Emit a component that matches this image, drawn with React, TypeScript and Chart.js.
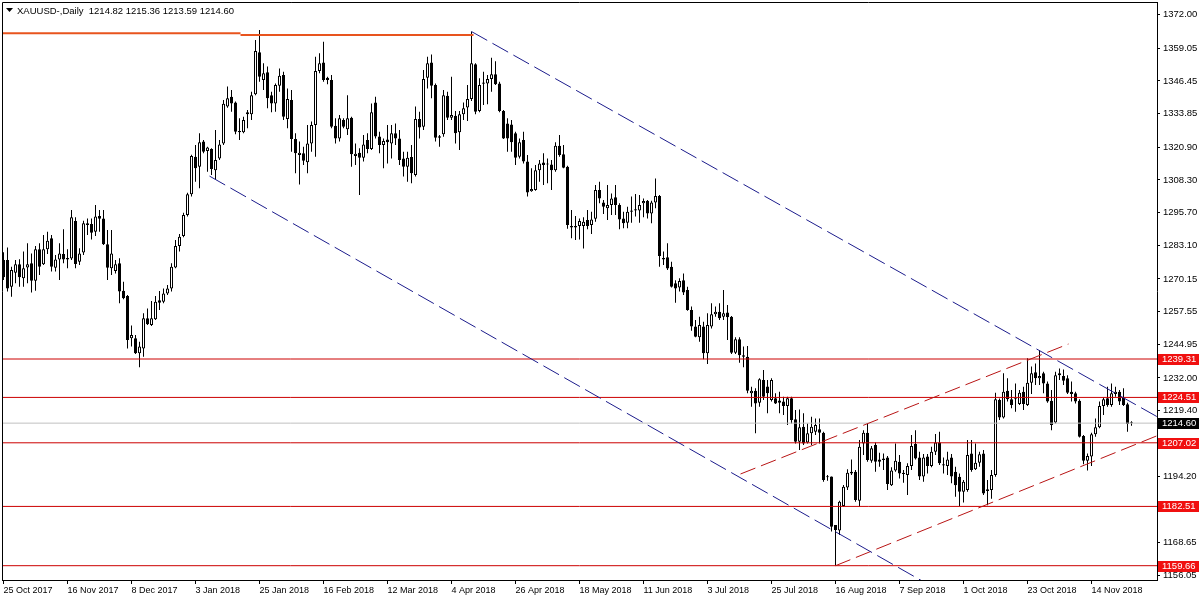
import React, { useEffect, useRef } from "react";
import { Chart, registerables } from "chart.js";

Chart.register(...registerables);

// ---- Daily candles, 25 Oct 2017 .. 28 Nov 2018 (index = trading day) ----
const opens: number[] = [
  1277.5, 1277.5, 1267.2, 1272.6, 1275.8, 1270.4, 1274.6, 1276.2, 1269.5, 1281.6,
  1275.8, 1281.6, 1285.8, 1274.5, 1277.7, 1279.8, 1278.2, 1278.0, 1292.5, 1276.8,
  1280.4, 1291.6, 1291.3, 1288.4, 1294.4, 1293.5, 1283.5, 1274.3, 1273.2, 1276.2,
  1265.6, 1263.6, 1247.3, 1247.3, 1241.5, 1243.4, 1255.0, 1252.4, 1254.6, 1262.0,
  1261.4, 1264.6, 1266.5, 1274.6, 1282.9, 1286.7, 1294.8, 1302.8, 1317.3, 1313.4,
  1323.1, 1319.5, 1320.2, 1312.1, 1316.6, 1322.4, 1336.6, 1340.4, 1338.2, 1327.2,
  1326.7, 1334.4, 1333.6, 1341.3, 1357.5, 1346.8, 1349.8, 1341.0, 1337.8, 1344.6,
  1348.8, 1331.8, 1339.1, 1324.1, 1317.9, 1318.6, 1315.1, 1322.4, 1329.5, 1350.3,
  1353.6, 1347.7, 1346.8, 1329.2, 1324.3, 1331.4, 1327.9, 1332.3, 1317.5, 1318.8,
  1316.9, 1323.7, 1320.2, 1338.2, 1325.1, 1321.8, 1323.9, 1322.4, 1326.3, 1324.3,
  1316.6, 1313.4, 1317.2, 1310.2, 1331.8, 1328.8, 1347.7, 1353.6, 1344.9, 1325.2,
  1325.9, 1340.8, 1332.3, 1333.1, 1326.7, 1333.6, 1336.2, 1339.5, 1352.9, 1334.9,
  1345.9, 1345.5, 1347.2, 1349.0, 1345.5, 1334.9, 1330.1, 1329.7, 1326.3, 1317.3,
  1323.7, 1315.4, 1304.0, 1304.4, 1312.1, 1315.0, 1314.3, 1314.3, 1312.1, 1321.5,
  1318.2, 1313.4, 1290.6, 1290.6, 1290.6, 1290.6, 1292.9, 1291.0, 1293.4, 1304.4,
  1299.6, 1297.4, 1298.7, 1301.6, 1298.7, 1293.5, 1291.8, 1296.1, 1297.0, 1296.5,
  1299.3, 1300.3, 1295.4, 1299.6, 1302.1, 1278.2, 1278.5, 1274.9, 1268.5, 1266.9,
  1269.7, 1265.9, 1258.2, 1251.8, 1247.7, 1251.8, 1241.5, 1251.8, 1256.6, 1257.5,
  1255.6, 1257.2, 1255.6, 1241.7, 1246.9, 1240.8, 1240.2, 1226.1, 1227.1, 1222.5,
  1231.2, 1228.7, 1223.5, 1224.2, 1223.3, 1222.9, 1221.2, 1224.2, 1216.1, 1207.4,
  1213.2, 1207.1, 1210.7, 1211.3, 1212.2, 1210.9, 1194.0, 1194.0, 1175.3, 1173.2,
  1182.7, 1189.8, 1195.2, 1195.9, 1184.7, 1206.8, 1210.9, 1200.1, 1206.2, 1200.6,
  1200.4, 1201.4, 1190.7, 1196.3, 1199.7, 1195.5, 1194.6, 1198.1, 1206.6, 1201.4,
  1194.0, 1201.7, 1198.1, 1203.6, 1207.1, 1198.8, 1198.1, 1201.4, 1195.9, 1193.9,
  1188.2, 1188.8, 1202.9, 1196.8, 1199.3, 1202.9, 1188.4, 1188.8, 1194.6, 1223.5,
  1216.8, 1227.1, 1223.8, 1223.8, 1222.0, 1226.7, 1221.6, 1230.2, 1234.2, 1231.9,
  1233.8, 1229.9, 1223.2, 1214.8, 1233.1, 1232.8, 1231.9, 1226.7, 1226.1, 1223.2,
  1209.6, 1200.1, 1201.7, 1210.3, 1213.0, 1221.2, 1224.2, 1221.6, 1225.8, 1226.7,
  1224.5, 1221.9, 1214.82,
];
const highs: number[] = [
  1280.5, 1282.3, 1274.9, 1277.5, 1277.8, 1280.7, 1283.9, 1280.0, 1282.9, 1283.9,
  1287.1, 1288.4, 1287.1, 1279.4, 1283.9, 1289.3, 1281.6, 1296.7, 1293.9, 1282.0,
  1292.6, 1293.5, 1293.5, 1298.7, 1296.7, 1296.7, 1289.0, 1289.0, 1277.5, 1278.1,
  1269.1, 1264.0, 1252.2, 1248.6, 1246.0, 1256.9, 1258.8, 1261.7, 1263.6, 1265.5,
  1266.5, 1267.8, 1276.2, 1285.2, 1287.5, 1295.7, 1303.4, 1318.0, 1321.8, 1326.3,
  1323.7, 1321.1, 1320.5, 1327.6, 1323.7, 1339.1, 1344.3, 1343.0, 1338.5, 1332.1,
  1332.7, 1335.3, 1342.3, 1362.2, 1366.1, 1353.3, 1352.0, 1342.3, 1345.5, 1351.3,
  1350.0, 1343.6, 1343.0, 1326.3, 1323.1, 1321.1, 1329.5, 1330.8, 1355.8, 1357.1,
  1361.6, 1348.1, 1348.8, 1332.1, 1333.3, 1332.1, 1341.0, 1332.7, 1322.4, 1320.5,
  1325.6, 1326.3, 1337.8, 1340.4, 1326.9, 1324.3, 1329.5, 1329.5, 1330.1, 1327.6,
  1319.2, 1319.2, 1321.8, 1336.6, 1334.6, 1350.7, 1355.8, 1356.7, 1345.5, 1325.6,
  1343.0, 1342.3, 1348.1, 1334.9, 1334.9, 1338.2, 1344.9, 1365.5, 1353.3, 1347.5,
  1350.0, 1348.8, 1355.4, 1354.1, 1346.2, 1335.3, 1332.1, 1331.4, 1326.9, 1324.3,
  1326.9, 1317.9, 1312.8, 1314.1, 1316.0, 1318.6, 1316.6, 1316.0, 1322.8, 1325.6,
  1321.8, 1313.8, 1296.7, 1294.4, 1293.5, 1293.9, 1296.7, 1296.1, 1306.4, 1307.6,
  1300.6, 1306.4, 1303.1, 1306.4, 1299.3, 1296.1, 1298.0, 1301.9, 1302.9, 1302.5,
  1301.2, 1300.6, 1300.3, 1308.9, 1302.5, 1280.7, 1283.9, 1276.8, 1269.7, 1270.4,
  1272.3, 1267.2, 1259.5, 1254.3, 1255.6, 1253.7, 1256.9, 1260.8, 1259.5, 1260.8,
  1265.9, 1260.1, 1255.9, 1247.7, 1247.7, 1244.1, 1244.3, 1228.6, 1228.0, 1231.9,
  1235.1, 1231.2, 1231.9, 1226.1, 1226.7, 1224.8, 1224.8, 1224.8, 1219.7, 1219.9,
  1218.4, 1214.5, 1217.1, 1216.4, 1216.4, 1211.3, 1194.6, 1194.0, 1175.3, 1184.7,
  1190.8, 1196.8, 1200.6, 1196.5, 1208.1, 1211.9, 1214.5, 1205.8, 1207.1, 1203.2,
  1202.9, 1201.9, 1197.6, 1206.8, 1202.3, 1196.5, 1199.1, 1210.0, 1211.9, 1203.6,
  1202.7, 1202.7, 1205.5, 1210.4, 1211.3, 1201.4, 1203.6, 1202.7, 1197.8, 1195.2,
  1192.7, 1208.1, 1208.1, 1206.8, 1203.6, 1204.2, 1192.7, 1196.5, 1226.3, 1224.1,
  1233.8, 1231.9, 1227.4, 1229.9, 1227.4, 1228.6, 1239.6, 1236.4, 1237.6, 1242.8,
  1234.4, 1230.6, 1227.4, 1234.4, 1235.7, 1235.3, 1233.1, 1230.6, 1226.7, 1223.8,
  1210.0, 1202.9, 1210.9, 1216.4, 1222.9, 1224.5, 1228.6, 1229.9, 1228.6, 1227.4,
  1228.0, 1222.5, 1215.36,
];
const lows: number[] = [
  1269.8, 1265.3, 1263.3, 1268.5, 1267.2, 1267.2, 1268.5, 1264.9, 1265.6, 1271.7,
  1275.5, 1279.8, 1273.0, 1273.0, 1269.8, 1276.2, 1274.3, 1277.5, 1274.3, 1275.5,
  1279.4, 1287.1, 1285.4, 1286.7, 1288.4, 1283.2, 1269.8, 1271.7, 1272.3, 1260.8,
  1262.3, 1243.4, 1244.1, 1241.2, 1236.1, 1240.2, 1252.4, 1252.0, 1254.3, 1258.2,
  1260.8, 1264.0, 1265.3, 1274.3, 1280.7, 1286.2, 1294.2, 1301.9, 1307.6, 1305.1,
  1318.6, 1311.5, 1310.2, 1308.3, 1316.0, 1321.8, 1336.1, 1334.6, 1325.9, 1323.7,
  1326.3, 1328.2, 1331.4, 1341.0, 1346.2, 1343.0, 1335.9, 1334.4, 1334.6, 1342.3,
  1331.4, 1328.2, 1319.2, 1310.9, 1306.6, 1314.1, 1310.9, 1319.2, 1317.3, 1349.4,
  1346.2, 1345.2, 1328.2, 1322.4, 1323.1, 1328.2, 1325.6, 1313.4, 1314.1, 1302.5,
  1315.4, 1318.6, 1319.9, 1324.3, 1318.6, 1312.8, 1314.7, 1316.6, 1321.8, 1314.1,
  1309.6, 1307.6, 1307.0, 1309.6, 1324.3, 1327.6, 1343.6, 1339.8, 1323.1, 1321.1,
  1325.0, 1331.4, 1331.4, 1322.4, 1319.9, 1331.4, 1331.0, 1338.7, 1333.6, 1334.4,
  1337.2, 1337.5, 1342.3, 1344.9, 1334.4, 1324.1, 1319.2, 1319.2, 1314.1, 1316.6,
  1314.7, 1301.9, 1303.8, 1304.2, 1307.6, 1306.4, 1307.0, 1304.4, 1311.5, 1317.3,
  1312.8, 1289.5, 1285.8, 1285.2, 1285.4, 1281.9, 1289.3, 1287.5, 1292.2, 1299.3,
  1295.2, 1292.9, 1294.8, 1294.8, 1289.3, 1289.7, 1289.7, 1291.8, 1294.2, 1291.8,
  1293.9, 1293.5, 1291.6, 1297.4, 1274.9, 1275.5, 1273.6, 1266.9, 1261.0, 1265.3,
  1264.0, 1257.9, 1250.2, 1247.7, 1246.0, 1239.2, 1237.4, 1251.1, 1255.6, 1254.3,
  1254.3, 1246.6, 1241.2, 1241.2, 1237.9, 1236.1, 1226.1, 1220.9, 1210.7, 1220.9,
  1223.5, 1218.4, 1222.9, 1222.0, 1218.4, 1217.7, 1213.9, 1214.5, 1206.8, 1204.2,
  1206.2, 1206.8, 1206.2, 1210.0, 1206.8, 1192.0, 1192.4, 1172.8, 1159.66, 1171.5,
  1182.4, 1188.8, 1194.6, 1184.3, 1182.4, 1202.3, 1199.7, 1199.3, 1195.9, 1197.8,
  1196.5, 1188.8, 1190.4, 1195.9, 1193.3, 1191.6, 1186.9, 1196.5, 1200.6, 1192.7,
  1192.0, 1195.2, 1197.6, 1202.3, 1198.5, 1195.2, 1194.6, 1191.4, 1186.2, 1182.6,
  1184.0, 1188.2, 1195.9, 1196.5, 1197.8, 1186.9, 1183.0, 1185.5, 1193.9, 1215.8,
  1216.4, 1222.9, 1220.3, 1219.0, 1221.6, 1219.7, 1221.2, 1225.8, 1229.3, 1229.3,
  1226.1, 1222.5, 1211.9, 1214.5, 1231.2, 1229.3, 1225.8, 1222.9, 1222.2, 1209.1,
  1198.8, 1196.3, 1198.1, 1209.4, 1212.6, 1217.7, 1220.9, 1220.9, 1224.8, 1221.6,
  1221.2, 1211.3, 1213.59,
];
const closes: number[] = [
  1270.8, 1266.5, 1273.6, 1275.8, 1270.8, 1274.3, 1275.8, 1269.5, 1281.6, 1274.9,
  1281.6, 1284.9, 1274.9, 1277.7, 1280.0, 1277.7, 1277.7, 1293.9, 1275.9, 1280.0,
  1291.6, 1291.0, 1288.0, 1294.2, 1293.4, 1283.5, 1274.5, 1280.0, 1275.8, 1265.3,
  1262.7, 1246.6, 1248.6, 1241.5, 1244.1, 1255.0, 1252.7, 1255.0, 1261.4, 1261.0,
  1264.6, 1266.5, 1274.9, 1282.9, 1286.4, 1294.8, 1302.8, 1317.5, 1312.8, 1322.8,
  1319.2, 1320.8, 1312.5, 1316.0, 1322.0, 1337.7, 1339.8, 1337.8, 1326.9, 1326.7,
  1331.4, 1333.6, 1341.0, 1358.0, 1348.1, 1349.4, 1339.8, 1337.8, 1344.9, 1348.5,
  1332.7, 1339.5, 1324.1, 1318.6, 1318.8, 1315.7, 1322.4, 1329.5, 1350.3, 1353.3,
  1346.8, 1346.8, 1328.8, 1324.3, 1332.1, 1328.8, 1332.1, 1318.2, 1318.4, 1316.9,
  1322.0, 1320.2, 1334.4, 1325.1, 1321.8, 1323.3, 1322.8, 1326.3, 1324.3, 1316.0,
  1313.4, 1316.9, 1310.9, 1331.8, 1328.5, 1347.2, 1353.3, 1344.6, 1324.6, 1324.6,
  1341.0, 1332.3, 1333.3, 1326.3, 1333.6, 1335.9, 1339.5, 1353.3, 1334.6, 1344.9,
  1345.4, 1347.2, 1349.0, 1345.2, 1334.9, 1324.3, 1324.3, 1322.8, 1316.9, 1322.8,
  1315.4, 1303.5, 1304.8, 1312.1, 1314.7, 1314.1, 1314.7, 1312.1, 1321.5, 1317.9,
  1313.0, 1291.0, 1290.0, 1290.0, 1292.5, 1292.2, 1290.6, 1293.1, 1304.4, 1301.2,
  1298.0, 1298.7, 1301.2, 1298.7, 1293.1, 1291.6, 1296.1, 1296.5, 1296.5, 1298.7,
  1300.2, 1295.4, 1299.6, 1302.1, 1279.0, 1277.7, 1274.2, 1267.2, 1266.5, 1269.4,
  1264.9, 1258.2, 1251.8, 1247.9, 1252.4, 1241.5, 1252.4, 1256.6, 1257.5, 1255.0,
  1256.9, 1255.4, 1241.7, 1246.9, 1240.8, 1240.2, 1227.1, 1227.1, 1222.2, 1231.5,
  1224.8, 1226.1, 1231.2, 1222.2, 1222.5, 1221.2, 1224.2, 1215.8, 1207.4, 1213.0,
  1206.8, 1210.7, 1213.2, 1213.9, 1210.9, 1192.7, 1193.7, 1174.7, 1173.4, 1184.3,
  1190.1, 1195.5, 1195.9, 1185.0, 1205.5, 1210.9, 1200.4, 1204.9, 1199.7, 1199.7,
  1201.0, 1191.1, 1196.3, 1200.1, 1195.2, 1195.0, 1198.1, 1205.8, 1201.0, 1194.0,
  1201.4, 1198.1, 1203.6, 1207.1, 1199.1, 1198.3, 1200.6, 1194.0, 1190.7, 1188.2,
  1192.0, 1202.3, 1196.5, 1199.3, 1202.6, 1187.5, 1189.1, 1194.6, 1223.8, 1216.8,
  1226.7, 1223.8, 1221.6, 1224.2, 1226.3, 1222.0, 1230.2, 1233.8, 1231.9, 1232.8,
  1229.9, 1222.9, 1213.9, 1233.1, 1233.8, 1230.9, 1226.3, 1225.8, 1222.9, 1209.4,
  1200.1, 1201.9, 1210.3, 1213.0, 1221.2, 1223.8, 1221.6, 1226.1, 1226.7, 1222.9,
  1221.6, 1214.3, 1214.60,
];

// x-axis date labels, one every 16 trading days starting at index 0
const dateTickLabels: string[] = [
  "25 Oct 2017", "16 Nov 2017", "8 Dec 2017", "3 Jan 2018", "25 Jan 2018",
  "16 Feb 2018", "12 Mar 2018", "4 Apr 2018", "26 Apr 2018", "18 May 2018",
  "11 Jun 2018", "3 Jul 2018", "25 Jul 2018", "16 Aug 2018", "7 Sep 2018",
  "1 Oct 2018", "23 Oct 2018", "14 Nov 2018",
];
const barsPerDateTick = 16;

// y-axis price ticks
const yTickValues: number[] = [
  1372.0, 1359.05, 1346.45, 1333.85, 1320.9, 1308.3, 1295.7, 1283.1, 1270.15,
  1257.55, 1244.95, 1232.0, 1219.4, 1206.8, 1194.2, 1181.25, 1168.65, 1156.05,
];

// horizontal levels and last price
const levelPrices: number[] = [1239.31, 1224.51, 1207.02, 1182.51, 1159.66];
const lastPrice = 1214.6;
const symbolTitle = "XAUUSD-,Daily";
const lastOHLC: number[] = [1214.82, 1215.36, 1213.59, 1214.6];

// drawn objects: [barIndex, price] end points
const topLineA: number[][] = [[-1, 1364.8], [59.25, 1364.8]];
const topLineB: number[][] = [[59.25, 1364.2], [117.5, 1364.2]];
const blueUpper: number[][] = [[117, 1365.5], [288.5, 1217.0]];
const blueLower: number[][] = [[51.5, 1309.8], [229.5, 1153.9]];
const redLower: number[][] = [[208, 1159.66], [288.5, 1209.8]];
const redUpper: number[][] = [[184.25, 1195.0], [266.25, 1245.1]];

const FONT_FAMILY = "'Liberation Sans', Arial, sans-serif";
const X_FONT_SIZE = 9;
const Y_FONT_SIZE = 9.5;

export default function App() {
  const ref = useRef<HTMLCanvasElement | null>(null);

  useEffect(() => {
    const canvas = ref.current;
    if (!canvas) return;

    const idx = opens.map((_, i) => i);
    const wickData = idx.map((i) => ({ x: i, y: [lows[i], highs[i]] }));
    const bodyData = idx.map((i) => ({ x: i, y: [opens[i], closes[i]] }));
    const bodyFill = idx.map((i) => (closes[i] >= opens[i] ? "#ffffff" : "#000000"));
    const pts = (p: number[][]) => p.map(([x, y]) => ({ x, y }));

    const lineDs = (data: any[], color: string, width: number, dash: number[]) => ({
      type: "line" as const,
      data,
      borderColor: color,
      borderWidth: width,
      borderDash: dash,
      pointRadius: 0,
      tension: 0,
      fill: false,
      order: 0,
    });

    const hLines = levelPrices.map((p) =>
      lineDs([{ x: -2, y: p }, { x: 300, y: p }], "#cc0000", 1, [])
    );

    const overlay = {
      id: "overlay",
      afterDraw(chart: any) {
        const { ctx, chartArea: a } = chart;
        const y = chart.scales.y;
        ctx.save();
        // frame left & top
        ctx.strokeStyle = "#000";
        ctx.lineWidth = 1;
        ctx.beginPath();
        ctx.moveTo(a.left + 0.5, a.bottom);
        ctx.lineTo(a.left + 0.5, a.top + 0.5);
        ctx.lineTo(a.right, a.top + 0.5);
        ctx.stroke();

        // title
        ctx.fillStyle = "#000";
        ctx.beginPath();
        ctx.moveTo(6, 8);
        ctx.lineTo(13, 8);
        ctx.lineTo(9.5, 12);
        ctx.closePath();
        ctx.fill();
        ctx.font = `${Y_FONT_SIZE}px ${FONT_FAMILY}`;
        ctx.textBaseline = "middle";
        ctx.textAlign = "left";
        ctx.fillText(
          symbolTitle + "  " + lastOHLC.map((v) => v.toFixed(2)).join(" "),
          17,
          11
        );

        // price boxes
        const box = (p: number, bg: string) => {
          const py = Math.round(y.getPixelForValue(p));
          ctx.fillStyle = bg;
          ctx.fillRect(a.right + 1, py - 5, 41, 11);
          ctx.fillStyle = "#ffffff";
          ctx.fillText(p.toFixed(2), a.right + 5, py + 0.5);
        };
        levelPrices.forEach((p) => box(p, "#f01010"));
        box(lastPrice, "#000000");
        ctx.restore();
      },
    };

    const chart = new Chart(canvas, {
      type: "bar",
      data: {
        datasets: [
          lineDs(pts(topLineA), "#e8541e", 2, []),
          lineDs(pts(topLineB), "#e8541e", 2, []),
          lineDs(pts(blueUpper), "#1c1c8c", 1, [18, 6]),
          lineDs(pts(blueLower), "#1c1c8c", 1, [18, 6]),
          lineDs(pts(redLower), "#b81414", 1, [16, 6]),
          lineDs(pts(redUpper), "#b81414", 1, [16, 6]),
          ...hLines,
          lineDs([{ x: -2, y: lastPrice }, { x: 300, y: lastPrice }], "#c0c0c0", 1, []),
          {
            type: "bar" as const,
            data: bodyData as any,
            backgroundColor: bodyFill,
            borderColor: "#000000",
            borderWidth: 1,
            borderSkipped: false,
            barThickness: 3,
            minBarLength: 1,
            grouped: false,
            inflateAmount: 0,
            order: 1,
          },
          {
            type: "bar" as const,
            data: wickData as any,
            backgroundColor: "#000000",
            borderWidth: 0,
            barThickness: 1,
            grouped: false,
            inflateAmount: 0,
            order: 2,
          },
        ] as any,
      },
      options: {
        animation: false,
        responsive: false,
        devicePixelRatio: 1,
        events: [],
        layout: { padding: { left: 2, top: 2, right: 0, bottom: 0 } },
        plugins: {
          legend: { display: false },
          tooltip: { enabled: false },
          title: { display: false },
        },
        scales: {
          x: {
            type: "linear",
            min: -0.375,
            max: 288.375,
            offset: false,
            grid: {
              display: true,
              drawOnChartArea: false,
              drawTicks: true,
              tickLength: 4,
              color: "#000",
              offset: false,
            },
            border: { display: true, color: "#000", width: 1 },
            ticks: {
              autoSkip: false,
              maxRotation: 0,
              minRotation: 0,
              align: "start",
              padding: 1,
              color: "#000",
              font: { family: FONT_FAMILY, size: X_FONT_SIZE },
              callback: (v: any) => dateTickLabels[Math.round(Number(v) / barsPerDateTick)] ?? "",
            },
            afterBuildTicks: (s: any) => {
              s.ticks = dateTickLabels.map((_, k) => ({ value: k * barsPerDateTick }));
            },
            afterFit: (s: any) => {
              s.height = 20;
              s.paddingLeft = 0;
              s.paddingRight = 0;
            },
          },
          y: {
            type: "linear",
            position: "right",
            min: 1154.15,
            max: 1376.89,
            grid: {
              display: true,
              drawOnChartArea: false,
              drawTicks: true,
              tickLength: 3,
              color: "#000",
            },
            border: { display: true, color: "#000", width: 1 },
            ticks: {
              autoSkip: false,
              padding: 3,
              color: "#000",
              font: { family: FONT_FAMILY, size: Y_FONT_SIZE },
              callback: (v: any) => Number(v).toFixed(2),
            },
            afterBuildTicks: (s: any) => {
              s.ticks = yTickValues.map((v) => ({ value: v }));
            },
            afterFit: (s: any) => {
              s.width = 43;
              s.paddingTop = 0;
              s.paddingBottom = 0;
            },
          },
        },
      } as any,
      plugins: [overlay],
    });

    return () => chart.destroy();
  }, []);

  return (
    <div style={{ position: "absolute", left: 0, top: 0, width: 1200, height: 600, background: "#fff" }}>
      <canvas ref={ref} width={1200} height={600} style={{ display: "block", width: 1200, height: 600 }} />
    </div>
  );
}
